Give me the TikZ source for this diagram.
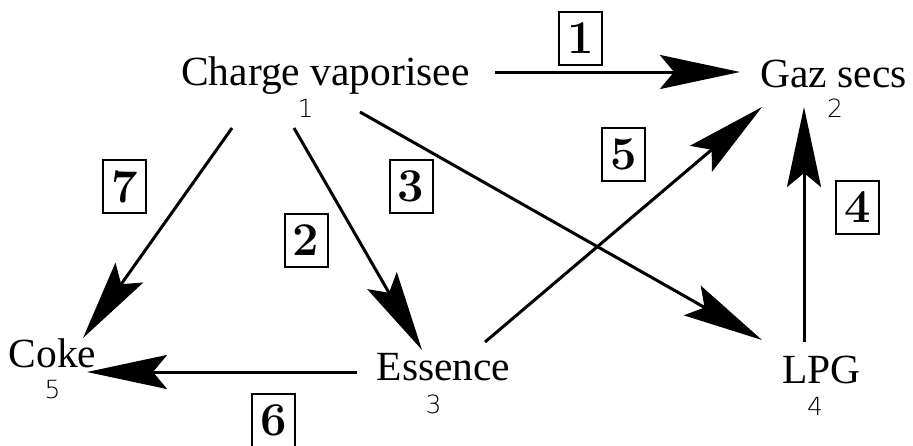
\documentclass[tikz,border=0pt]{standalone}
\usepackage{fontspec}
\usetikzlibrary{arrows.meta}
\newfontfamily\labfont{Liberation Serif}
\newfontfamily\numfont{DejaVu Sans ExtraLight}
\tikzset{
  lab/.style={anchor=base,inner sep=0pt,font=\labfont\fontsize{41.5}{44}\selectfont},
  idx/.style={anchor=base,inner sep=0pt,font=\numfont\fontsize{25}{27}\selectfont},
  boxnum/.style={draw,line width=2pt,minimum width=43pt,minimum height=53pt,inner sep=0pt,
    font=\bfseries\fontsize{47}{49}\selectfont},
  conn/.style={line width=3pt,-{Stealth[length=80pt,width=34pt,inset=14pt]}}
}
\begin{document}
\begin{tikzpicture}[x=1pt,y=-1pt]
\useasboundingbox (0,0) rectangle (913,445);
% labels
\node[lab] (cv) at (325.5,85) {Charge vaporisee};
\node[idx] (n1) at (305.5,117) {1};
\node[lab] (gs) at (833.5,87) {Gaz secs};
\node[idx] (n2) at (835,117) {2};
\node[lab] (es) at (443.5,380) {Essence};
\node[idx] (n3) at (433.5,413) {3};
\node[lab] (ck) at (52.5,367) {Coke};
\node[idx] (n5) at (52.5,398) {5};
\node[lab] (lpg) at (821.5,383) {LPG};
\node[idx] (n4) at (815,415) {4};
% connector ends
\coordinate (a1s) at (495,72);   \coordinate (a1e) at (740,72);
\coordinate (a7s) at (232,128);  \coordinate (a7e) at (83,338);
\coordinate (a2s) at (294,128);  \coordinate (a2e) at (422,350);
\coordinate (a3s) at (360,112);  \coordinate (a3e) at (762,340);
\coordinate (a5s) at (485,342);  \coordinate (a5e) at (762,107);
\coordinate (a4s) at (804,342);  \coordinate (a4e) at (804,107);
\coordinate (a6s) at (357,372);  \coordinate (a6e) at (87,372);
% connectors
\draw[conn] (a1s) -- (a1e);
\draw[conn] (a7s) -- (a7e);
\draw[conn] (a2s) -- (a2e);
\draw[conn] (a3s) -- (a3e);
\draw[conn] (a5s) -- (a5e);
\draw[conn] (a4s) -- (a4e);
\draw[conn] (a6s) -- (a6e);
% boxed numbers
\node[boxnum] (b1) at (580.5,38.5) {1};
\node[boxnum] (b2) at (306,240.5) {2};
\node[boxnum] (b3) at (411,186) {3};
\node[boxnum] (b4) at (857.5,207.5) {4};
\node[boxnum] (b5) at (623.5,154.5) {5};
\node[boxnum] (b6) at (273.5,420.5) {6};
\node[boxnum] (b7) at (124.5,186.5) {7};
\end{tikzpicture}
\end{document}
